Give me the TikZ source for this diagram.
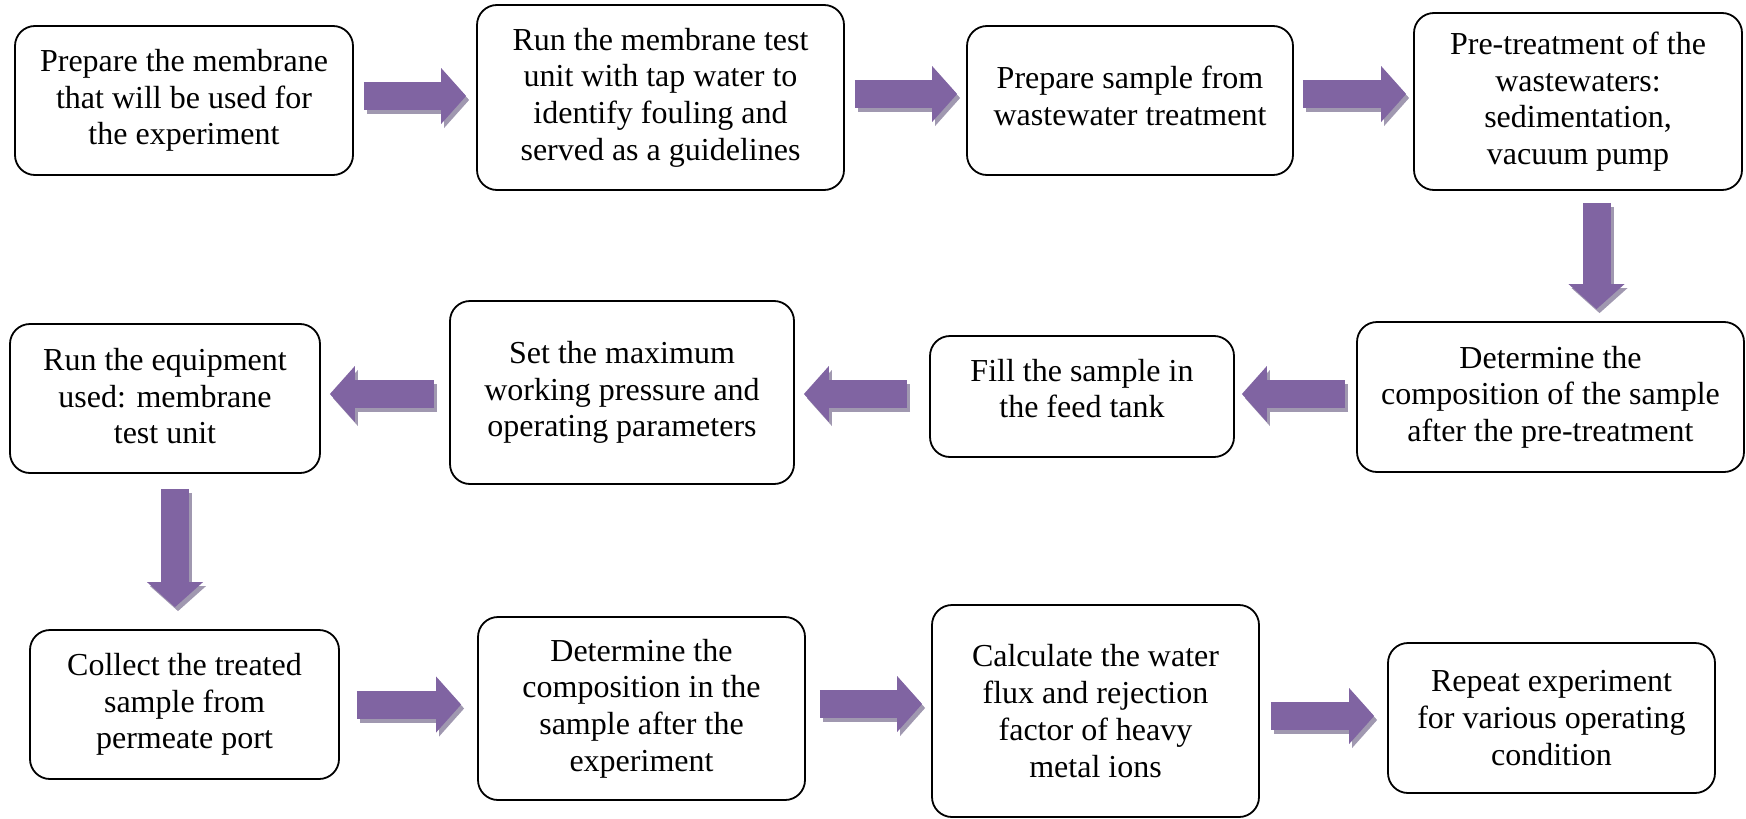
\documentclass[tikz,border=0pt]{standalone}
\usepackage{fontspec}
\setmainfont{Liberation Serif}
\usetikzlibrary{arrows.meta,calc}
\definecolor{flowpurple}{HTML}{8064A2}
\definecolor{flowshadow}{HTML}{A098B0}

\begin{document}
\begin{tikzpicture}[
    x=1pt, y=-1pt,
    font=\fontsize{32}{36.7}\selectfont,
    procbox/.style={draw, line width=1.8pt, rounded corners=20pt, align=center, inner sep=0pt},
    fat/.style={draw=flowpurple, line width=28pt, -{Triangle[length=25pt,width=56pt,line width=0pt]}},
    fatshadow/.style={fat, draw=flowshadow, transform canvas={shift={(3pt,-4pt)}}},
]
\useasboundingbox (0,0) rectangle (1746,819);

% ---- first row ----
\node[procbox, minimum width=338, minimum height=149] (memb) at (184,100.5)
    {Prepare the membrane\\that will be used for\\the experiment};
\node[procbox, minimum width=367, minimum height=185] (tap) at (660.5,97.5)
    {Run the membrane test\\unit with tap water to\\identify fouling and\\served as a guidelines};
\node[procbox, minimum width=326, minimum height=149, text depth=10pt] (samp) at (1130,100.5)
    {Prepare sample from\\wastewater treatment};
\node[procbox, minimum width=328, minimum height=177] (pret) at (1578,101.5)
    {Pre-treatment of the\\wastewaters:\\sedimentation,\\vacuum pump};

% ---- second row (right to left) ----
\node[procbox, minimum width=387, minimum height=150] (comp) at (1550.5,397)
    {Determine the\\composition of the sample\\after the pre-treatment};
\node[procbox, minimum width=304, minimum height=121, text depth=16pt] (feed) at (1082,396.5)
    {Fill the sample in\\the feed tank};
\node[procbox, minimum width=344, minimum height=183] (press) at (622,392.5)
    {Set the maximum\\working pressure and\\operating parameters};
\node[procbox, minimum width=310, minimum height=149, text depth=5pt] (runeq) at (165,398.5)
    {Run the equipment\\used: membrane\\test unit};

% ---- third row ----
\node[procbox, minimum width=309, minimum height=149] (coll) at (184.5,704.5)
    {Collect the treated\\sample from\\permeate port};
\node[procbox, minimum width=327, minimum height=183] (compexp) at (641.5,708.5)
    {Determine the\\composition in the\\sample after the\\experiment};
\node[procbox, minimum width=327, minimum height=212] (flux) at (1095.5,711)
    {Calculate the water\\flux and rejection\\factor of heavy\\metal ions};
\node[procbox, minimum width=327, minimum height=150] (rep) at (1551.5,718)
    {Repeat experiment\\for various operating\\condition};

% ---- block arrows, shadow first ----
\foreach \c in {fatshadow,fat} {
    \draw[\c, shorten <=10pt, shorten >=10pt] ($(memb.east)+(0,-4.5)$) -- ($(memb.east -| tap.west)+(0,-4.5)$);
    \draw[\c, shorten <=10pt, shorten >=9pt] ($(tap.east)+(0,-3.5)$) -- ($(tap.east -| samp.west)+(0,-3.5)$);
    \draw[\c, shorten <=9pt, shorten >=7pt] ($(samp.east)+(0,-6.5)$) -- ($(samp.east -| pret.west)+(0,-6.5)$);
    \draw[\c, shorten <=12pt, shorten >=12pt] ($(pret.south)+(18.5,0)$) -- ($(pret.south |- comp.north)+(18.5,0)$);
    \draw[\c, shorten <=11pt, shorten >=7pt] ($(comp.west)+(0,-3)$) -- ($(comp.west -| feed.east)+(0,-3)$);
    \draw[\c, shorten <=22pt, shorten >=9pt] ($(feed.west)+(0,-2.5)$) -- ($(feed.west -| press.east)+(0,-2.5)$);
    \draw[\c, shorten <=15pt, shorten >=9pt] ($(press.west)+(0,1.5)$) -- ($(press.west -| runeq.east)+(0,1.5)$);
    \draw[\c, shorten <=15pt, shorten >=22pt] ($(runeq.south)+(10,0)$) -- ($(runeq.south |- coll.north)+(10,0)$);
    \draw[\c, shorten <=17pt, shorten >=16pt] (coll.east) -- (coll.east -| compexp.west);
    \draw[\c, shorten <=14pt, shorten >=9pt] ($(compexp.east)+(0,-4.5)$) -- ($(compexp.east -| flux.west)+(0,-4.5)$);
    \draw[\c, shorten <=11pt, shorten >=13pt] ($(flux.east)+(0,5)$) -- ($(flux.east -| rep.west)+(0,5)$);
}
\end{tikzpicture}
\end{document}
